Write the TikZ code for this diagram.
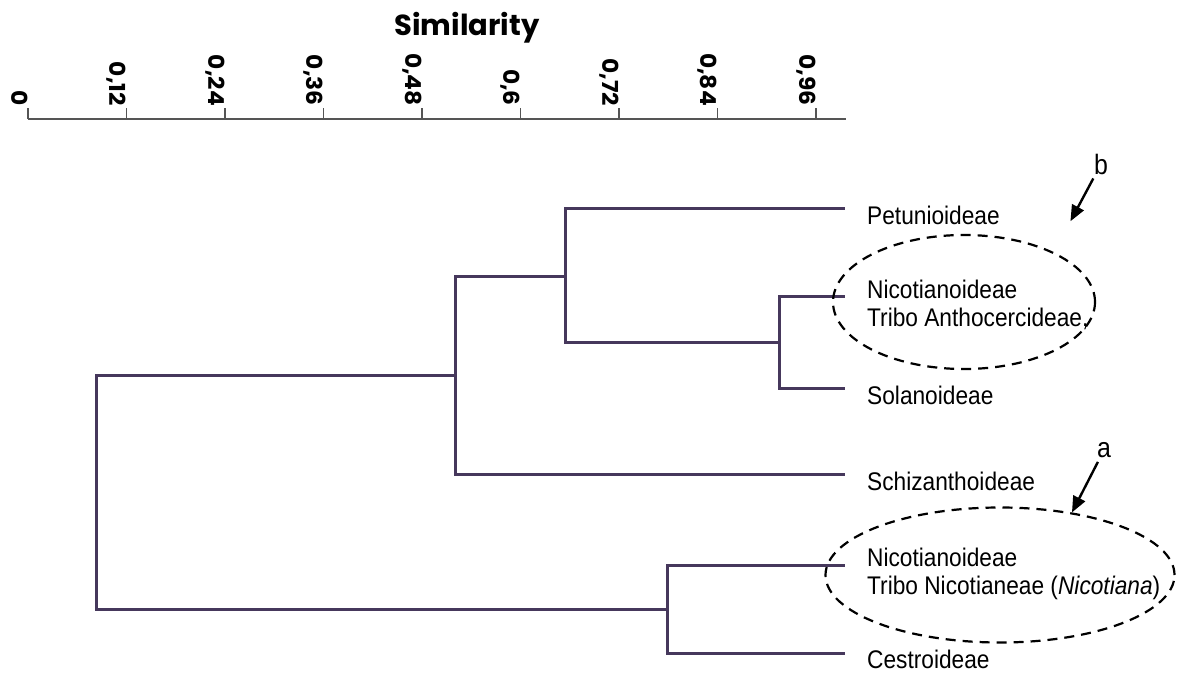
\documentclass[tikz,border=0pt]{standalone}
\usepackage{fontspec}
\setmainfont{Liberation Sans}[FakeStretch=0.89]
\newfontfamily\simfont{Poppins}
\newfontfamily\tickfont{Poppins}[FakeStretch=1.06]
\usepackage{tikz}
\usetikzlibrary{positioning, arrows.meta, shapes.geometric}
\definecolor{treecol}{RGB}{70,56,92}
\definecolor{axisgray}{RGB}{85,85,85}

\begin{document}
\begin{tikzpicture}[x=1pt,y=-1pt,
    branch/.style={draw=treecol,line width=3pt},
    axisline/.style={draw=axisgray,line width=1.3pt},
    ticklab/.style={font=\tickfont\bfseries\fontsize{22}{22}\selectfont,rotate=-90,anchor=north east,inner sep=0pt},
    leaf/.style={font=\fontsize{25.5}{28}\selectfont,align=left,inner sep=0pt},
    group/.style={ellipse,draw,line width=2.2pt,dash pattern=on 10pt off 7pt,inner sep=0pt},
    marker/.style={font=\fontsize{28}{28}\selectfont,inner sep=4pt},
    pointer/.style={-{Triangle[length=16pt,width=13pt]},line width=2.4pt}]
  \useasboundingbox (0,0) rectangle (1183,677);
  \node[font=\simfont\bfseries\fontsize{29}{29}\selectfont,anchor=base] (title) at (467,36) {Similarity};
  \draw[axisline] (28,119) -- (846,119);
  \foreach \lab [count=\i from 0] in {0,{0,12},{0,24},{0,36},{0,48},{0,6},{0,72},{0,84},{0,96}} {
    \draw[axisline] (28+98.5*\i,119) -- (28+98.5*\i,108);
    \node[ticklab] (t\i) at (28+98.5*\i,106) {\lab};
  }
  \coordinate (petu) at (845,208);
  \coordinate (nicb) at (845,296);
  \coordinate (sola) at (845,388);
  \coordinate (schi) at (845,474);
  \coordinate (nica) at (845,565);
  \coordinate (cest) at (845,653);
  \coordinate (j3) at (779,342);
  \coordinate (j2) at (565,276);
  \coordinate (j1) at (455,375);
  \coordinate (j4) at (667,609);
  \coordinate (root) at (96,492);
  \draw[branch]
    (root) |- (j1) (root) |- (j4)
    (j1) |- (j2)   (j1) |- (schi)
    (j2) |- (petu) (j2) |- (j3)
    (j3) |- (nicb) (j3) |- (sola)
    (j4) |- (nica) (j4) |- (cest);
  \node[leaf] (petu-l) [right=22pt of petu,yshift=-7pt] {Petunioideae};
  \node[leaf] (nicb-l) [right=22pt of nicb,yshift=-9pt] {Nicotianoideae\\Tribo Anthocercideae,};
  \node[leaf] (sola-l) [right=22pt of sola,yshift=-7pt] {Solanoideae};
  \node[leaf] (schi-l) [right=22pt of schi,yshift=-7pt] {Schizanthoideae};
  \node[leaf] (nica-l) [right=22pt of nica,yshift=-9pt] {Nicotianoideae\\Tribo Nicotianeae (\textit{Nicotiana})};
  \node[leaf] (cest-l) [right=22pt of cest,yshift=-6pt] {Cestroideae};
  \node[group,minimum width=262pt,minimum height=134pt] (grp-b) at (964,302) {};
  \node[group,minimum width=349pt,minimum height=135pt] (grp-a) at (1000,575) {};
  \node[marker] (mark-b) at (1101,164) {b};
  \node[marker] (mark-a) at (1104,450) {a};
  \draw[pointer,shorten >=35pt] (mark-b) -- (grp-b.29);
  \draw[pointer] (mark-a) -- (grp-a.41);
\end{tikzpicture}
\end{document}
